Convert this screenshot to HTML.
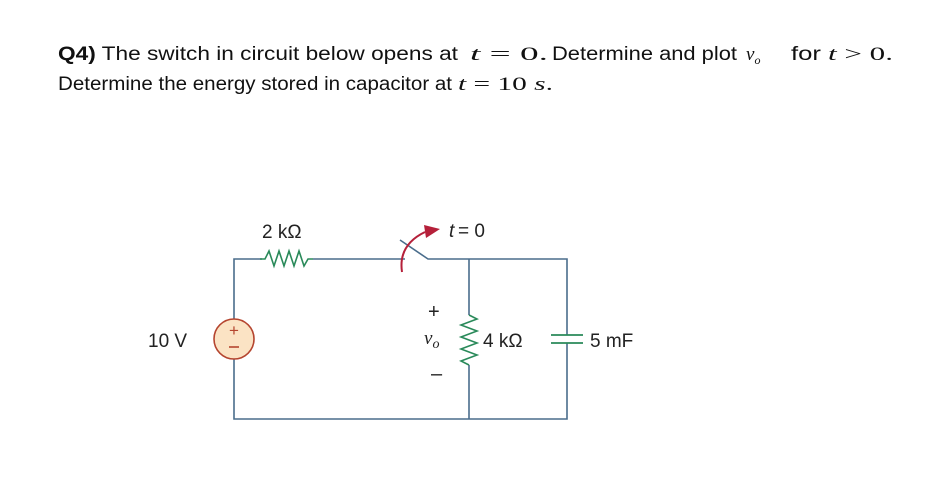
<!DOCTYPE html>
<html><head><style>body{margin:0;background:#fff}svg{display:block}.s{font-family:"Liberation Sans",sans-serif}.r{font-family:"Liberation Serif","DejaVu Serif",serif}</style></head><body>
<svg width="939" height="494" xmlns="http://www.w3.org/2000/svg">
<rect width="939" height="494" fill="#fff"/>
<g font-size="19" fill="#111">
<text class="s" x="58" y="60" textLength="400" lengthAdjust="spacingAndGlyphs"><tspan font-weight="bold">Q4)</tspan> The switch in circuit below opens at</text>
<text class="r" x="470" y="60" textLength="78" lengthAdjust="spacingAndGlyphs"><tspan font-style="italic">t</tspan> = 0.</text>
<text class="s" x="552" y="60" textLength="185" lengthAdjust="spacingAndGlyphs">Determine and plot</text>
<text class="r" x="746" y="60" font-style="italic">v<tspan font-size="12" dy="4">o</tspan></text>
<text class="s" x="791" y="60" textLength="30" lengthAdjust="spacingAndGlyphs">for</text>
<text class="r" x="828" y="60" textLength="65" lengthAdjust="spacingAndGlyphs"><tspan font-style="italic">t</tspan> &gt; 0.</text>
<text class="s" x="58" y="90" textLength="394" lengthAdjust="spacingAndGlyphs">Determine the energy stored in capacitor at</text>
<text class="r" x="458" y="90" textLength="95" lengthAdjust="spacingAndGlyphs"><tspan font-style="italic">t</tspan> = 10 <tspan font-style="italic">s</tspan>.</text>
</g>
<g fill="none" stroke="#4a6d8c" stroke-width="1.6">
<polyline points="262,259 234,259 234,319"/>
<polyline points="234,359 234,419 567,419 567,343"/>
<line x1="313" y1="259" x2="405" y2="259"/>
<polyline points="400,240 428,259 567,259 567,335"/>
<line x1="469" y1="259" x2="469" y2="315"/>
<line x1="469" y1="365" x2="469" y2="419"/>
</g>
<polyline points="260,259 265,259 269,251 274,266 279,251 284,266 289,251 294,266 299,251 304,266 308,259 313,259" fill="none" stroke="#2a8a5a" stroke-width="1.6"/>
<polyline points="469,315 477,319 461,325 477,331 461,337 477,343 461,349 477,355 461,361 469,365" fill="none" stroke="#2a8a5a" stroke-width="1.6"/>
<g stroke="#2a8a5a" stroke-width="1.8"><line x1="551" y1="335" x2="583" y2="335"/><line x1="551" y1="343" x2="583" y2="343"/></g>
<circle cx="234" cy="339" r="20" fill="#fbe3c4" stroke="#b5452f" stroke-width="1.6"/>
<text class="s" x="234" y="336" text-anchor="middle" font-size="17" fill="#b5452f">+</text>
<line x1="229" y1="347" x2="239" y2="347" stroke="#b5452f" stroke-width="1.6"/>
<path d="M402,272 Q398,245 425,232" fill="none" stroke="#b5203a" stroke-width="2"/>
<polygon points="440,229 424,225 426,238" fill="#b5203a"/>
<g class="s" font-size="19" fill="#222">
<text x="262" y="238">2 kΩ</text>
<text x="449" y="237" font-style="italic">t</text><text x="458" y="237">= 0</text>
<text x="148" y="347">10 V</text>
<text x="483" y="347">4 kΩ</text>
<text x="590" y="347">5 mF</text>
<text x="428" y="318" font-size="20">+</text>
<text x="431" y="380" font-size="20">–</text>
</g>
<text class="r" x="424" y="344" font-style="italic" font-size="19" fill="#222">v<tspan font-size="14" dy="4">o</tspan></text>
</svg>
</body></html>
